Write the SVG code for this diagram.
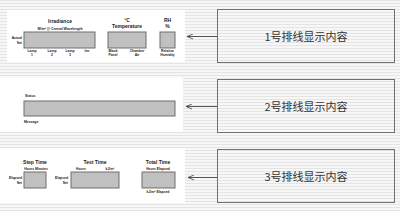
<svg xmlns="http://www.w3.org/2000/svg" width="400" height="211" viewBox="0 0 400 211">
<defs>
<pattern id="stripes" width="4" height="3" patternUnits="userSpaceOnUse">
<rect width="4" height="3" fill="#f7f7f7"/>
<rect y="0" width="4" height="1" fill="#e4e4e4"/>
</pattern>
<marker id="arr" markerWidth="8" markerHeight="6" refX="6" refY="3" orient="auto" markerUnits="userSpaceOnUse">
<path d="M0,0.5 L6,3 L0,5.5" fill="none" stroke="#444" stroke-width="0.8"/>
</marker>
</defs>
<style>
.panel{fill:#ffffff;stroke:none}
.disp{fill:#c0c0c0;stroke:#6e6e6e;stroke-width:1}
.note{fill:none;stroke:#707070;stroke-width:1}
.t{font-family:"Liberation Sans",Arial,sans-serif;font-weight:bold;fill:#222}
.h{font-size:5px}
.s{font-size:3.4px}
.cn{font-family:"Noto Sans CJK SC","Liberation Sans",sans-serif;font-size:11px;fill:#333}
.conn{stroke:#555;stroke-width:1;fill:none}
</style>
<rect width="400" height="211" fill="url(#stripes)"/>

<g id="panel1">
<rect class="panel" x="7" y="10" width="178" height="52"/>
<text class="t h" x="60" y="23" text-anchor="middle">Irradiance</text>
<text class="t s" x="60" y="29.5" text-anchor="middle">W/m² @ Central Wavelength</text>
<rect class="disp" x="24" y="32" width="71" height="16"/>
<text class="t s" x="22" y="39" text-anchor="end">Actual</text>
<text class="t s" x="22" y="44" text-anchor="end">Set</text>
<text class="t s" x="32" y="52" text-anchor="middle">Lamp</text>
<text class="t s" x="32" y="56" text-anchor="middle">1</text>
<text class="t s" x="52" y="52" text-anchor="middle">Lamp</text>
<text class="t s" x="52" y="56" text-anchor="middle">2</text>
<text class="t s" x="70" y="52" text-anchor="middle">Lamp</text>
<text class="t s" x="70" y="56" text-anchor="middle">3</text>
<text class="t s" x="87" y="52" text-anchor="middle">Ixn</text>
<text class="t h" x="127" y="22" text-anchor="middle">°C</text>
<text class="t h" x="127" y="28" text-anchor="middle">Temperature</text>
<rect class="disp" x="108" y="32" width="38" height="16"/>
<text class="t s" x="113" y="52" text-anchor="middle">Black</text>
<text class="t s" x="113" y="56" text-anchor="middle">Panel</text>
<text class="t s" x="137" y="52" text-anchor="middle">Chamber</text>
<text class="t s" x="137" y="56" text-anchor="middle">Air</text>
<text class="t h" x="167.5" y="22" text-anchor="middle">RH</text>
<text class="t h" x="167.5" y="28" text-anchor="middle">%</text>
<rect class="disp" x="160" y="32" width="15" height="16"/>
<text class="t s" x="167.5" y="52" text-anchor="middle">Relative</text>
<text class="t s" x="167.5" y="56" text-anchor="middle">Humidity</text>
</g>

<g id="panel2">
<rect class="panel" x="0" y="78" width="183" height="54"/>
<text class="t s" x="25" y="97">Status</text>
<rect class="disp" x="24" y="101" width="151" height="15"/>
<text class="t s" x="24" y="123">Message</text>
</g>

<g id="panel3">
<rect class="panel" x="0" y="148" width="185" height="55"/>
<text class="t h" x="35" y="164" text-anchor="middle">Step Time</text>
<text class="t s" x="36" y="170" text-anchor="middle">Hours  Minutes</text>
<rect class="disp" x="24" y="172" width="22" height="16"/>
<text class="t s" x="22" y="179" text-anchor="end">Elapsed</text>
<text class="t s" x="22" y="184" text-anchor="end">Set</text>
<text class="t h" x="95" y="164" text-anchor="middle">Test Time</text>
<text class="t s" x="81" y="170" text-anchor="middle">Hours</text>
<text class="t s" x="110" y="170" text-anchor="middle">kJ/m²</text>
<rect class="disp" x="71" y="172" width="48" height="16"/>
<text class="t s" x="68" y="179" text-anchor="end">Elapsed</text>
<text class="t s" x="68" y="184" text-anchor="end">Set</text>
<text class="t h" x="158" y="164" text-anchor="middle">Total Time</text>
<text class="t s" x="158" y="170" text-anchor="middle">Hours Elapsed</text>
<rect class="disp" x="142" y="172" width="33" height="16"/>
<text class="t s" x="158" y="193" text-anchor="middle">kJ/m² Elapsed</text>
</g>

<g id="note1">
<rect class="note" x="217.5" y="9.5" width="177" height="53"/>
<text class="cn" x="306" y="40.5" text-anchor="middle">1号排线显示内容</text>
</g>
<g id="note2">
<rect class="note" x="217.5" y="79.5" width="177" height="53"/>
<text class="cn" x="306" y="110.5" text-anchor="middle">2号排线显示内容</text>
</g>
<g id="note3">
<rect class="note" x="217.5" y="149.5" width="177" height="53"/>
<text class="cn" x="306" y="180.5" text-anchor="middle">3号排线显示内容</text>
</g>

<g id="connectors">
<path class="conn" d="M217,36.5 L187,36.5" marker-end="url(#arr)"/>
<path class="conn" d="M217,106.5 L186,106.5" marker-end="url(#arr)"/>
<path class="conn" d="M217,177.5 L188,177.5" marker-end="url(#arr)"/>
</g>
</svg>
